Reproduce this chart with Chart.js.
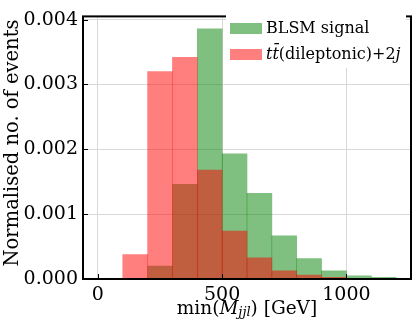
<!DOCTYPE html>
<html>
<head>
<meta charset="utf-8">
<script src="https://cdn.jsdelivr.net/npm/chart.js@4/dist/chart.umd.min.js"></script>
<style>
  html, body { margin: 0; padding: 0; background: #fff; }
  canvas { display: block; }
</style>
</head>
<body>
<canvas id="histChart" width="415" height="328"></canvas>
<script>
// bin centres of min(M_jjl) histogram, 100 GeV wide bins
const binCenters = [150, 250, 350, 450, 550, 650, 750, 850, 950, 1050, 1150];
const signalValues = [0, 0.0002, 0.00146, 0.00386, 0.00193, 0.00132, 0.000665, 0.000315, 0.000125, 0.00005, 0.000025];
const ttbarValues = [0.000375, 0.0032, 0.00342, 0.00168, 0.00074, 0.000325, 0.000125, 0.00006, 0.000025, 0, 0];
const xTicks = [0, 500, 1000];
const yTicks = [0, 0.001, 0.002, 0.003, 0.004];
const seriesLabels = ['BLSM signal', 'tt\u0304(dileptonic)+2j'];

const FONT = "'DejaVu Serif', serif";

const toPoints = vals => vals.map((v, i) => ({ x: binCenters[i], y: v }));

// draws frame, inward ticks, axis titles and legend inside the plot
const decorations = {
  id: 'decorations',
  afterDatasetsDraw(chart) {
    const { ctx, chartArea: a, scales } = chart;
    ctx.save();
    // inward ticks
    ctx.strokeStyle = '#000';
    ctx.lineWidth = 1;
    ctx.beginPath();
    yTicks.forEach(v => {
      const y = Math.round(scales.y.getPixelForValue(v)) + 0.5;
      ctx.moveTo(a.left, y); ctx.lineTo(a.left + 5, y);
    });
    xTicks.forEach(v => {
      const x = Math.round(scales.x.getPixelForValue(v)) + 0.5;
      ctx.moveTo(x, a.bottom); ctx.lineTo(x, a.bottom - 5);
    });
    ctx.stroke();
    // frame
    ctx.lineWidth = 2;
    ctx.strokeRect(a.left, a.top, a.right - a.left, a.bottom - a.top);

    // legend
    ctx.fillStyle = '#fff';
    ctx.fillRect(226, 14, 180, 54);
    const ds = chart.data.datasets;
    ctx.fillStyle = ds[0].backgroundColor;
    ctx.fillRect(230, 23, 32, 11);
    ctx.fillStyle = ds[1].backgroundColor;
    ctx.fillRect(230, 49, 32, 11);
    ctx.fillStyle = '#000';
    ctx.textBaseline = 'middle';
    ctx.textAlign = 'left';
    ctx.font = '16px ' + FONT;
    ctx.fillText(seriesLabels[0], 266, 29);
    let x = 266;
    const parts = [['italic ', 'tt\u0304'], ['', '(dileptonic)+2'], ['italic ', 'j']];
    parts.forEach(([style, txt]) => {
      ctx.font = style + '16px ' + FONT;
      ctx.fillText(txt, x, 55);
      x += ctx.measureText(txt).width;
    });

    // x title: min(M_jjl) [GeV]
    const xParts = [['', '18.5px', 'min(', 0], ['italic ', '18.5px', 'M', 0], ['italic ', '13px', 'jjl', 4], ['', '18.5px', ') [GeV]', 0]];
    let total = 0;
    xParts.forEach(p => { ctx.font = p[0] + p[1] + ' ' + FONT; total += ctx.measureText(p[2]).width; });
    x = (a.left + a.right) / 2 - total / 2;
    xParts.forEach(p => {
      ctx.font = p[0] + p[1] + ' ' + FONT;
      ctx.fillText(p[2], x, 309 + p[3]);
      x += ctx.measureText(p[2]).width;
    });

    // y title
    ctx.translate(17.5, 143);
    ctx.rotate(-Math.PI / 2);
    ctx.textAlign = 'center';
    ctx.textBaseline = 'alphabetic';
    ctx.font = '19.5px ' + FONT;
    ctx.fillText('Normalised no. of events', 0, 0);
    ctx.restore();
  }
};

new Chart(document.getElementById('histChart'), {
  type: 'bar',
  data: {
    datasets: [{
      label: seriesLabels[0],
      data: toPoints(signalValues),
      backgroundColor: 'rgba(0,128,0,0.5)',
      order: 1
    }, {
      label: seriesLabels[1],
      data: toPoints(ttbarValues),
      backgroundColor: 'rgba(255,0,0,0.5)',
      order: 0
    }]
  },
  options: {
    responsive: false,
    animation: false,
    devicePixelRatio: 1,
    grouped: false,
    barPercentage: 1,
    categoryPercentage: 1,
    borderWidth: 0,
    layout: { padding: { top: 9, right: 4, left: 0, bottom: 0 } },
    plugins: { legend: { display: false }, tooltip: { enabled: false } },
    scales: {
      x: {
        type: 'linear',
        offset: false,
        min: -60,
        max: 1260,
        afterBuildTicks: s => { s.ticks = xTicks.map(v => ({ value: v })); },
        afterFit: s => { s.height = 49; },
        grid: { color: '#d8d8d8', drawTicks: false, offset: false },
        border: { display: false },
        ticks: { color: '#000', font: { family: FONT, size: 19 }, padding: 5, maxRotation: 0, callback: v => String(v) }
      },
      y: {
        min: 0,
        max: 0.00405,
        afterBuildTicks: s => { s.ticks = yTicks.map(v => ({ value: v })); },
        afterFit: s => { s.width = 83; },
        grid: { color: '#d8d8d8', drawTicks: false },
        border: { display: false },
        ticks: { color: '#000', font: { family: FONT, size: 19 }, padding: 5, callback: v => v.toFixed(3) }
      }
    }
  },
  plugins: [decorations]
});
</script>
</body>
</html>
